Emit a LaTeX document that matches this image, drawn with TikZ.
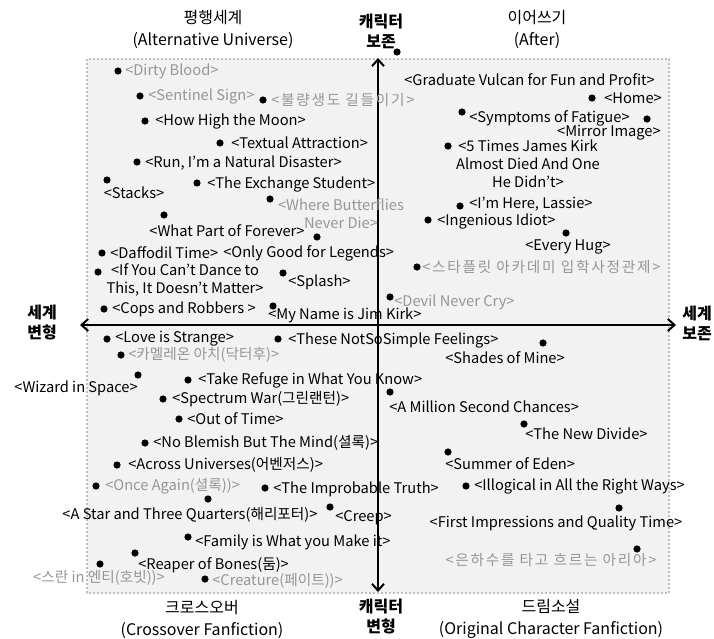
\documentclass[tikz,border=0pt]{standalone}
\usepackage{fontspec}
\setmainfont{Noto Sans CJK KR}
\usetikzlibrary{arrows.meta}

\definecolor{fadegray}{RGB}{150,150,150}
\definecolor{boxgray}{RGB}{242,242,242}
\definecolor{rimgray}{RGB}{190,190,190}

\tikzset{
  pt/.style={circle,fill=black,inner sep=0pt,minimum size=5.4pt},
  lbl/.style={inner sep=0pt,font=\fontsize{11}{13.5}\selectfont},
  fade/.style={lbl,text=fadegray},
  widekor/.style={font=\fontsize{11}{13.5}\selectfont\addfontfeature{LetterSpace=12}},
  axislbl/.style={inner sep=0pt,align=center,font=\fontsize{12}{15}\selectfont\bfseries},
  quadlbl/.style={inner sep=0pt,align=center,font=\fontsize{12}{16.5}\selectfont},
}

\begin{document}
\begin{tikzpicture}[x=0.75pt,y=0.75pt,yscale=-1,xscale=1]
\useasboundingbox (0,0) rectangle (714,639);

%Shape: Rectangle [background field]
\draw [rimgray,fill=boxgray,line width=1.5pt,dash pattern=on 1.5pt off 1.5pt] (87,59) rectangle (669,593);

%Shape: Axis 2D
\coordinate (xlo) at (80,325);
\coordinate (xhi) at (676,325);
\coordinate (ylo) at (378,592);
\coordinate (yhi) at (378,58);
\draw [line width=1.5pt,{Straight Barb[length=5pt,width=9pt]}-{Straight Barb[length=5pt,width=9pt]}] (xlo) -- (xhi);
\draw [line width=1.5pt,{Straight Barb[length=5pt,width=9pt]}-{Straight Barb[length=5pt,width=9pt]}] (ylo) -- (yhi);

% Axis labels
\node [axislbl] (axTop) at (381,31) {캐릭터\\보존};
\node [axislbl] (axBot) at (381,617) {캐릭터\\변형};
\node [axislbl] (axLeft) at (42,323) {세계\\변형};
\node [axislbl] (axRight) at (697,323) {세계\\보존};

% Quadrant titles
\node [quadlbl] (qAU) at (213,29) {평행세계\\(Alternative Universe)};
\node [quadlbl] (qAfter) at (537,29) {이어쓰기\\(After)};
\node [quadlbl] (qCross) at (202,619) {크로스오버\\(Crossover Fanfiction)};
\node [quadlbl] (qDream) at (551,619) {드림소설\\(Original Character Fanfiction)};

%upper left
\node [pt] (dDirty) at (118,71) {};
\node [fade,anchor=west] (tDirty) at (125,71) {<Dirty Blood>};
\node [pt] (dSentinel) at (140,96) {};
\node [fade,anchor=west] (tSentinel) at (148,96) {<Sentinel Sign>};
\node [pt] (dBulyang) at (263,100) {};
\node [fade,widekor,anchor=west] (tBulyang) at (271,100) {<불량생도 길들이기>};
\node [pt] (dMoon) at (145,121) {};
\node [lbl,anchor=west] (tMoon) at (155,121) {<How High the Moon>};
\node [pt] (dTextual) at (220,143) {};
\node [lbl,anchor=west] (tTextual) at (231,143) {<Textual Attraction>};
\node [pt] (dRun) at (137,162) {};
\node [lbl,anchor=west] (tRun) at (145,163) {<Run, I'm a Natural Disaster>};
\node [pt] (dStacks) at (107,180) {};
\node [lbl] (tStacks) at (134,193) {<Stacks>};
\node [pt] (dExchange) at (197,183) {};
\node [lbl,anchor=west] (tExchange) at (207,184) {<The Exchange Student>};
\node [pt] (dButterfly) at (270,199) {};
\node [fade,align=center] (tButterfly) at (341,214) {<Where Butterflies\\Never Die>};
\node [pt] (dForever) at (164,215) {};
\node [lbl] (tForever) at (227,231) {<What Part of Forever>};
\node [pt] (dLegends) at (317,237) {};
\node [pt] (dDaffodil) at (102,253) {};
\node [lbl,anchor=west] (tDaffodil) at (110,253) {<Daffodil Time>};
\node [lbl,anchor=west] (tLegends) at (223,253) {<Only Good for Legends>};
\node [pt] (dDance) at (98,272) {};
\node [lbl,align=center] (tDance) at (185,280) {<If You Can't Dance to\\This, It Doesn't Matter>};
\node [pt] (dSplash) at (283,273) {};
\node [lbl,anchor=west] (tSplash) at (288,282) {<Splash>};
\node [pt] (dCops) at (104,309) {};
\node [lbl,anchor=west] (tCops) at (112,309) {<Cops and Robbers >};
\node [pt] (dJimKirk) at (273,306) {};
\node [lbl,anchor=west] (tJimKirk) at (268,315) {<My Name is Jim Kirk>};

%upper right
\node [pt] (dVulcan) at (397,52) {};
\node [lbl,anchor=west] (tVulcan) at (404,80) {<Graduate Vulcan for Fun and Profit>};
\node [pt] (dHome) at (592,98) {};
\node [lbl,anchor=west] (tHome) at (604,98) {<Home>};
\node [pt] (dFatigue) at (462,112) {};
\node [lbl,anchor=west] (tFatigue) at (469,118) {<Symptoms of Fatigue>};
\node [pt] (dMirror) at (647,119) {};
\node [lbl,anchor=east] (tMirror) at (661,133) {<Mirror Image>};
\node [pt] (dFiveTimes) at (448,146) {};
\node [lbl,align=center] (tFiveTimes) at (528,164) {<5 Times James Kirk\\Almost Died And One\\He Didn't>};
\node [pt] (dLassie) at (460,206) {};
\node [lbl,anchor=west] (tLassie) at (469,204) {<I'm Here, Lassie>};
\node [pt] (dIdiot) at (428,220) {};
\node [lbl,anchor=west] (tIdiot) at (437,221) {<Ingenious Idiot>};
\node [pt] (dHug) at (566,233) {};
\node [lbl] (tHug) at (568,247) {<Every Hug>};
\node [pt] (dStarfleet) at (417,267) {};
\node [fade,widekor,anchor=west] (tStarfleet) at (422,267) {<스타플릿 아카데미 입학사정관제>};
\node [pt] (dDevil) at (390,297) {};
\node [fade,anchor=west] (tDevil) at (394,302) {<Devil Never Cry>};

%lower left
\node [pt] (dStrange) at (107,339) {};
\node [lbl,anchor=west] (tStrange) at (115,339) {<Love is Strange>};
\node [pt] (dFeelings) at (278,339) {};
\node [lbl,anchor=west] (tFeelings) at (288,340) {<These NotSoSimple Feelings>};
\node [pt] (dArch) at (121,355) {};
\node [fade,anchor=west] (tArch) at (128,355) {<카멜레온 아치(닥터후)>};
\node [pt] (dWizard) at (138,375) {};
\node [lbl,anchor=east] (tWizard) at (138,388) {<Wizard in Space>};
\node [pt] (dRefuge) at (188,380) {};
\node [lbl,anchor=west] (tRefuge) at (198,380) {<Take Refuge in What You Know>};
\node [pt] (dSpectrum) at (163,399) {};
\node [lbl,anchor=west] (tSpectrum) at (172,399) {<Spectrum War(그린랜턴)>};
\node [pt] (dOutTime) at (179,419) {};
\node [lbl,anchor=west] (tOutTime) at (187,419) {<Out of Time>};
\node [pt] (dBlemish) at (145,443) {};
\node [lbl,anchor=west] (tBlemish) at (153,443) {<No Blemish But The Mind(셜록)>};
\node [pt] (dAcross) at (117,465) {};
\node [lbl,anchor=west] (tAcross) at (128,465) {<Across Universes(어벤저스)>};
\node [pt] (dOnce) at (96,486) {};
\node [fade,anchor=west] (tOnce) at (105,486) {<Once Again(셜록))>};
\node [pt] (dImprobable) at (265,488) {};
\node [lbl,anchor=west] (tImprobable) at (273,489) {<The Improbable Truth>};
\node [pt] (dStar) at (208,499) {};
\node [lbl] (tStar) at (190,515) {<A Star and Three Quarters(해리포터)>};
\node [pt] (dCreep) at (330,507) {};
\node [lbl,anchor=west] (tCreep) at (335,518) {<Creep>};
\node [pt] (dFamily) at (188,537) {};
\node [lbl,anchor=west] (tFamily) at (195,542) {<Family is What you Make it>};
\node [pt] (dReaper) at (135,553) {};
\node [lbl,anchor=west] (tReaper) at (138,565) {<Reaper of Bones(둠)>};
\node [pt] (dSran) at (100,564) {};
\node [fade] (tSran) at (99,578) {<스란 in 엔티(호빗))>};
\node [pt] (dCreature) at (205,579) {};
\node [fade,anchor=west] (tCreature) at (212,581) {<Creature(페이트))>};

%lower right
\node [pt] (dShades) at (543,343) {};
\node [lbl] (tShades) at (505,358) {<Shades of Mine>};
\node [pt] (dMillion) at (390,392) {};
\node [lbl,anchor=west] (tMillion) at (389,407) {<A Million Second Chances>};
\node [pt] (dDivide) at (524,424) {};
\node [lbl,anchor=west] (tDivide) at (525,434) {<The New Divide>};
\node [pt] (dEden) at (448,452) {};
\node [lbl,anchor=west] (tEden) at (445,464) {<Summer of Eden>};
\node [pt] (dIllogical) at (466,486) {};
\node [lbl,anchor=west] (tIllogical) at (474,486) {<Illogical in All the Right Ways>};
\node [pt] (dQuality) at (619,508) {};
\node [lbl] (tQuality) at (556,523) {<First Impressions and Quality Time>};
\node [pt] (dAria) at (637,549) {};
\node [fade,widekor] (tAria) at (551,560) {<은하수를 타고 흐르는 아리아>};

\end{tikzpicture}
\end{document}
